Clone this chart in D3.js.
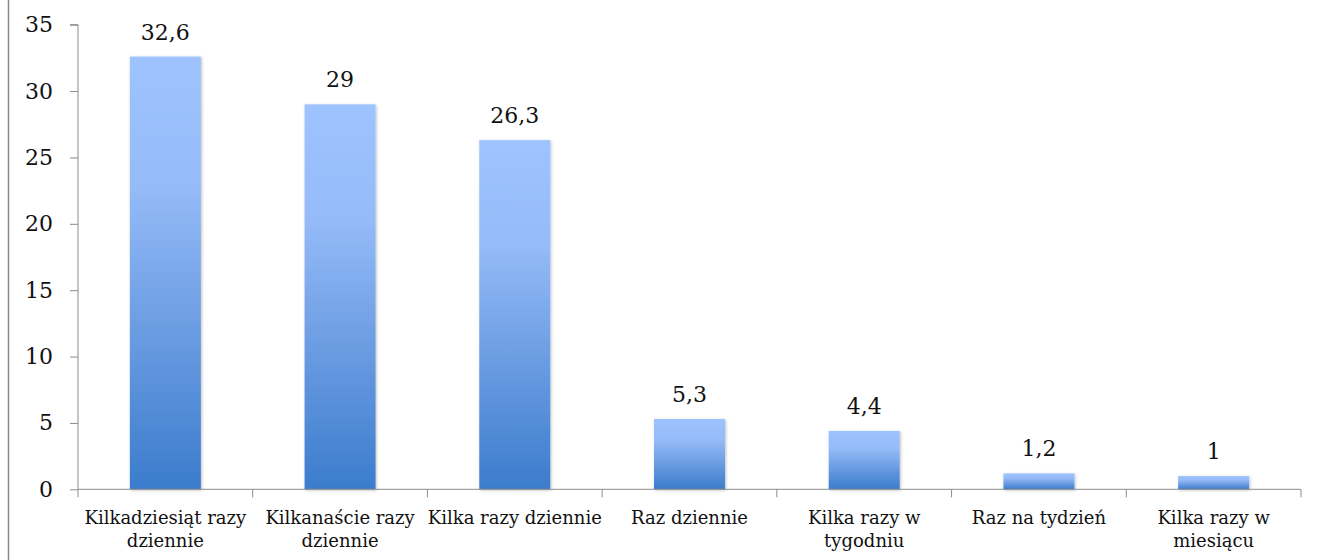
<!DOCTYPE html>
<html><head><meta charset="utf-8">
<script src="https://cdn.jsdelivr.net/npm/d3@7"></script>
<style>html,body{margin:0;padding:0;background:#fff;}svg{display:block;}</style>
</head><body>
<script>
const categories = [["Kilkadziesiąt razy","dziennie"],["Kilkanaście razy","dziennie"],["Kilka razy dziennie"],["Raz dziennie"],["Kilka razy w","tygodniu"],["Raz na tydzień"],["Kilka razy w","miesiącu"]];
const values = [32.6, 29, 26.3, 5.3, 4.4, 1.2, 1];
const valueLabels = ["32,6","29","26,3","5,3","4,4","1,2","1"];
const yTicks = [0,5,10,15,20,25,30,35];

const W = 1317, H = 560;
const svg = d3.select("body").append("svg").attr("width", W).attr("height", H);
const defs = svg.append("defs");
const grad = defs.append("linearGradient").attr("id","barGrad").attr("x1",0).attr("y1",0).attr("x2",0).attr("y2",1);
[[0,"#9ec3ff"],[0.3,"#95bbf8"],[0.6,"#6f9fe4"],[1,"#3b7ccc"]].forEach(s=>grad.append("stop").attr("offset",s[0]).attr("stop-color",s[1]));
const f = defs.append("filter").attr("id","sh").attr("x","-20%").attr("y","-20%").attr("width","140%").attr("height","140%");
f.append("feDropShadow").attr("dx",1).attr("dy",1).attr("stdDeviation",1.5).attr("flood-color","#000").attr("flood-opacity",0.25);

// left frame line
svg.append("line").attr("x1",8.5).attr("x2",8.5).attr("y1",0).attr("y2",H).attr("stroke","#8a8a8a").attr("stroke-width",1.5);

const x0 = 78, x1 = 1301, yb = 489.3, yt = 24.7;
const x = d3.scaleBand().domain(d3.range(categories.length)).range([x0, x1]).paddingInner(0).paddingOuter(0);
const y = d3.scaleLinear().domain([0,35]).range([yb, yt]);
const bw = 71;

const font = "'DejaVu Serif', serif";

// y axis
const yAxis = svg.append("g").attr("transform",`translate(${x0},0)`)
  .call(d3.axisLeft(y).tickValues(yTicks).tickSize(8).tickPadding(17).tickFormat(d=>String(d)));
yAxis.select(".domain").attr("stroke","#8c8c8c").attr("d",`M-8,${y(35)}H0V${yb}`);
yAxis.selectAll(".tick line").attr("stroke","#8c8c8c");
yAxis.selectAll(".tick text").attr("font-family",font).attr("font-size",22).attr("fill","#111");

// bars
svg.append("g").selectAll("rect").data(values).join("rect")
  .attr("x",(d,i)=>x(i)+x.bandwidth()/2-bw/2)
  .attr("width",bw)
  .attr("y",d=>y(d))
  .attr("height",d=>yb-y(d))
  .attr("fill","url(#barGrad)")
  .attr("filter","url(#sh)");

// x axis
const xg = svg.append("g");
xg.append("line").attr("x1",x0).attr("x2",x1).attr("y1",yb).attr("y2",yb).attr("stroke","#8c8c8c").attr("stroke-width",1);
const bounds = d3.range(categories.length+1).map(i=> i<categories.length ? x(i) : x1);
xg.selectAll("line.tk").data(bounds).join("line").attr("class","tk")
  .attr("x1",d=>d).attr("x2",d=>d).attr("y1",yb).attr("y2",yb+8).attr("stroke","#8c8c8c");

// category labels
const cl = svg.append("g").selectAll("text").data(categories).join("text")
  .attr("font-family",font).attr("font-size",18).attr("fill","#111").attr("text-anchor","middle")
  .attr("transform",(d,i)=>`translate(${x(i)+x.bandwidth()/2},524)`);
cl.selectAll("tspan").data(d=>d).join("tspan").attr("x",0).attr("y",(d,j)=>j*23).text(d=>d);

// value labels
svg.append("g").selectAll("text").data(values).join("text")
  .attr("font-family",font).attr("font-size",22).attr("fill","#111").attr("text-anchor","middle")
  .attr("x",(d,i)=>x(i)+x.bandwidth()/2)
  .attr("y",d=>y(d)-17)
  .text((d,i)=>valueLabels[i]);
</script>
</body></html>
